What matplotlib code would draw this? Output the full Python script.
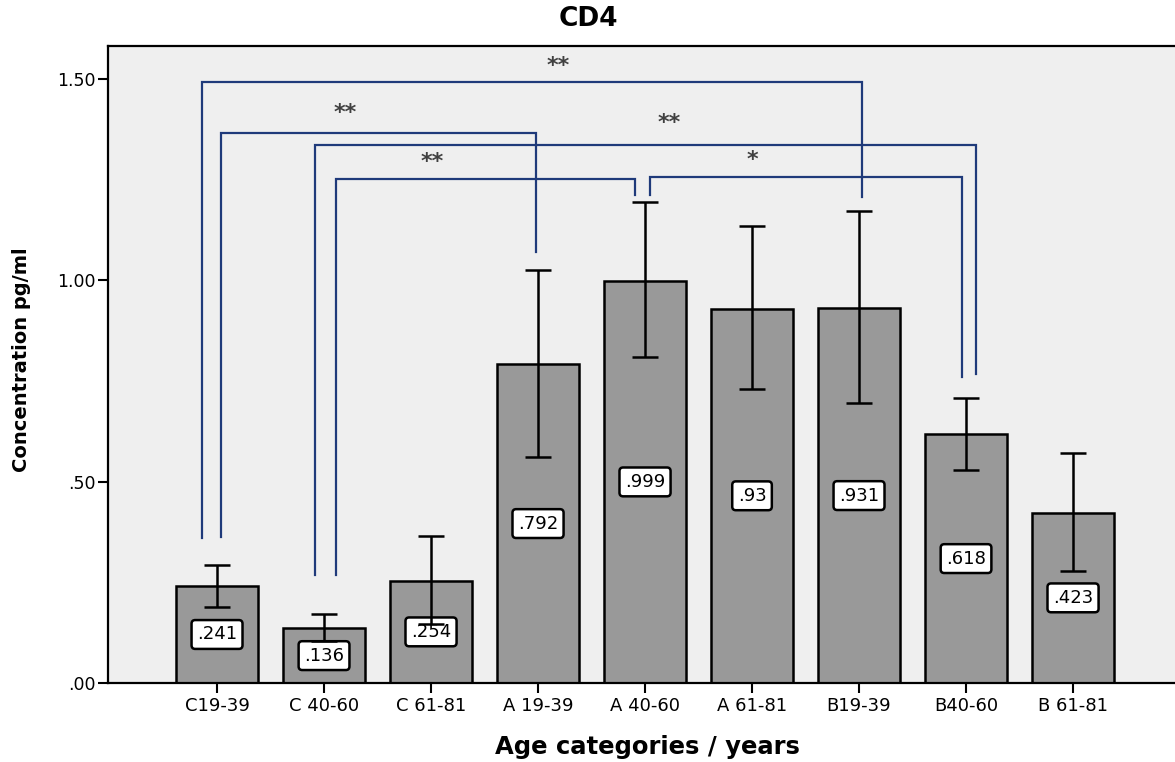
import matplotlib
matplotlib.use("Agg")
import matplotlib.pyplot as plt
import numpy as np

# ---- data -------------------------------------------------------------
categories = ["C19-39", "C 40-60", "C 61-81", "A 19-39", "A 40-60",
              "A 61-81", "B19-39", "B40-60", "B 61-81"]
means = [0.241, 0.136, 0.254, 0.792, 0.999, 0.930, 0.931, 0.618, 0.423]
ci_low = [0.190, 0.105, 0.147, 0.562, 0.809, 0.730, 0.695, 0.530, 0.277]
ci_high = [0.294, 0.171, 0.364, 1.026, 1.196, 1.136, 1.173, 0.707, 0.571]

y_ticks = [0.0, 0.5, 1.0, 1.5]
y_tick_labels = [".00", ".50", "1.00", "1.50"]

# pairwise comparisons: (group a, group b, significance marker)
comparisons = [(0, 6, "**"), (0, 3, "**"), (1, 7, "**"), (1, 4, "**"), (4, 7, "*")]

# bracket geometry: offset at a, offset at b, bar level, foot at a, foot at b,
# marker position (x, y)
bracket_layout = [
    (-0.14, 0.03, 1.493, 0.360, 1.207, (3.19, 1.533)),
    (0.04, -0.02, 1.366, 0.363, 1.071, (1.20, 1.416)),
    (-0.08, 0.09, 1.337, 0.268, 0.768, (4.23, 1.391)),
    (0.11, -0.09, 1.252, 0.268, 1.212, (2.01, 1.294)),
    (0.05, -0.04, 1.257, 1.212, 0.760, (5.00, 1.299)),
]

W, H = 1175, 762
fig = plt.figure(figsize=(W / 100, H / 100), dpi=100)
fig.patch.set_facecolor("white")
ax = fig.add_axes([108 / W, 79 / H, 1067 / W, 637.3 / H])
ax.set_facecolor("#efefef")

x = np.arange(len(categories))
m = np.array(means)
ax.bar(x, m, width=0.76, color="#999999", edgecolor="black",
       linewidth=1.8, zorder=2)

# mean value boxes at half bar height
for xi, v in zip(x, means):
    lab = ("%g" % v).lstrip("0")
    ax.text(xi, v / 2, lab, ha="center", va="center", fontsize=13,
            color="black", zorder=3,
            bbox=dict(boxstyle="round,pad=0.3,rounding_size=0.2",
                      fc="white", ec="black", lw=1.8))

yerr = [m - np.array(ci_low), np.array(ci_high) - m]
ax.errorbar(x, m, yerr=yerr, fmt="none", ecolor="black", elinewidth=1.8,
            capsize=9.5, capthick=1.8, zorder=4)

# significance brackets
line_col = "#1f3a7a"
for (a, b, mark), (da, db, top, fa, fb, (tx, ty)) in zip(comparisons, bracket_layout):
    xa, xb = a + da, b + db
    ax.plot([xa, xa, xb, xb], [fa, top, top, fb], color=line_col, lw=1.6,
            solid_joinstyle="miter", zorder=5)
    ax.text(tx, ty, mark, ha="center", va="center", fontsize=16,
            fontweight="bold", color="#404040", zorder=6)

ax.set_xlim(-1.019, 8.953)
ax.set_ylim(0, 1.583)
ax.set_xticks(x, categories)
ax.set_yticks(y_ticks, y_tick_labels)
ax.tick_params(axis="both", direction="out", length=7, width=1.5,
               color="black")
ax.tick_params(axis="x", labelsize=13, pad=3)
ax.tick_params(axis="y", labelsize=12.5, pad=2)

ax.spines["right"].set_visible(False)
for s in ("left", "top", "bottom"):
    ax.spines[s].set_linewidth(1.6)
    ax.spines[s].set_color("black")

fig.text(588 / W, 1 - 19 / H, "CD4", ha="center", va="center",
         fontsize=19, fontweight="bold")
fig.text(647 / W, 1 - 747 / H, "Age categories / years", ha="center",
         va="center", fontsize=17.5, fontweight="bold")
fig.text(22 / W, 1 - 360 / H, "Concentration pg/ml", ha="center",
         va="center", rotation=90, fontsize=14, fontweight="bold")

fig.savefig("out.png", dpi=100, facecolor="white")
